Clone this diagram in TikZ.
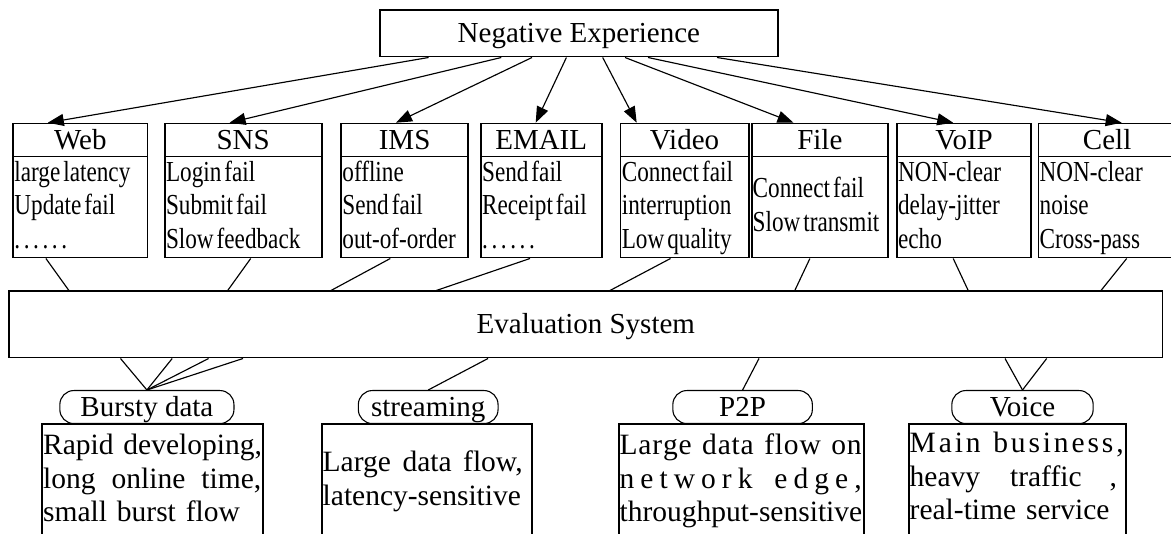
\documentclass[tikz,border=0pt]{standalone}
\usepackage{fontspec}
\setmainfont{Liberation Serif}
\newfontfamily\narrowserif[FakeStretch=0.8]{Liberation Serif}
\usetikzlibrary{arrows.meta}

\newcommand\mainsize{\fontsize{29pt}{33.5pt}\selectfont}
\newcommand\descsize{\fontsize{29.5pt}{33.5pt}\selectfont}
% stretchable gap for lines spread to the full box width
\newcommand\gap{\hspace{0pt plus 1fil}}
% tight word space for the condensed symptom lists
\newcommand\tsp{\hspace{3pt}}
% six spaced dots
\newcommand\dotrow{.\hspace{3.6pt}.\hspace{3.6pt}.\hspace{3.6pt}.\hspace{3.6pt}.\hspace{3.6pt}.}

% \boxat[style]{name}{x1}{y1}{x2}{y2}{text}: framed node spanning two corners
\newcommand\boxat[7][]{%
  \pgfmathsetmacro\boxw{#5-#3}%
  \pgfmathsetmacro\boxh{#6-#4}%
  \node[frame,#1,minimum width=\boxw pt,minimum height=\boxh pt] (#2) at (#3,#4) {#7};}

\begin{document}
\begin{tikzpicture}[x=1pt,y=-1pt,
  frame/.style={draw, line width=1.8pt, inner sep=0pt, anchor=north west,
    font=\mainsize, text height=20pt, text depth=2pt},
  tag/.style={line width=1.1pt, rounded corners=14pt},
  body/.style={anchor=base west, inner sep=0pt, align=left, text width=200pt,
    font=\narrowserif\mainsize},
  desc/.style={anchor=base west, inner sep=0pt, align=left, text width=250pt,
    font=\descsize},
  wire/.style={line width=1.15pt},
  arr/.style={wire, -{Triangle[length=16pt,width=12pt]}}]

\useasboundingbox (0,0) rectangle (1171,534);
\fill[white] (0,0) rectangle (1171,534);
\clip (0,0) rectangle (1171,534);

% top level and evaluation bar
\boxat{neg}{378.8}{9.3}{777.2}{55.7}{Negative Experience}
\boxat{eval}{8.4}{290.5}{1161.5}{356.7}{Evaluation System}

% service categories: header row and symptom list
\boxat{web-h}{12.2}{122.7}{146.6}{155.7}{Web}
\boxat{web-b}{12.2}{155.7}{146.6}{256.7}{}
\node[body] (web-t) at (14.2,181.5) {large\tsp latency\\Update\tsp fail\\\dotrow};

\boxat{sns-h}{163.8}{122.7}{320.7}{155.7}{SNS}
\boxat{sns-b}{163.8}{155.7}{320.7}{256.7}{}
\node[body] (sns-t) at (165.8,181.5) {Login\tsp fail\\Submit\tsp fail\\Slow\tsp feedback};

\boxat{ims-h}{340.2}{122.7}{467.2}{155.7}{IMS}
\boxat{ims-b}{340.2}{155.7}{467.2}{256.7}{}
\node[body] (ims-t) at (342.2,181.5) {offline\\Send\tsp fail\\out-of-order};

\boxat{email-h}{479.9}{122.7}{600.7}{155.7}{EMAIL}
\boxat{email-b}{479.9}{155.7}{600.7}{256.7}{}
\node[body] (email-t) at (481.9,181.5) {Send\tsp fail\\Receipt\tsp fail\\\dotrow};

\boxat{video-h}{619.6}{122.7}{747.7}{155.7}{Video}
\boxat{video-b}{619.6}{155.7}{747.7}{256.7}{}
\node[body] (video-t) at (621.6,181.5) {Connect\tsp fail\\interruption\\Low\tsp quality};

\boxat{file-h}{750.7}{122.7}{887.2}{155.7}{File}
\boxat{file-b}{750.7}{155.7}{887.2}{256.7}{}
\node[body] (file-t) at (752.5,198) {Connect\tsp fail\\Slow\tsp transmit};

\boxat{voip-h}{895.9}{122.7}{1030.4}{155.7}{VoIP}
\boxat{voip-b}{895.9}{155.7}{1030.4}{256.7}{}
\node[body] (voip-t) at (897.9,181.5) {NON-clear\\delay-jitter\\echo};

\boxat{cell-h}{1037.5}{122.7}{1175}{155.7}{Cell}
\boxat{cell-b}{1037.5}{155.7}{1175}{256.7}{}
\node[body] (cell-t) at (1039.5,181.5) {NON-clear\\noise\\Cross-pass};

% arrows from the top box to each category
\draw[arr] (428.6,0 |- neg.south) -- (47.8,0 |- web-h.north);
\draw[arr] (501.3,0 |- neg.south) -- (229.6,0 |- sns-h.north);
\draw[arr] (532,0 |- neg.south) -- (396,0 |- ims-h.north);
\draw[arr] (566.4,0 |- neg.south) -- (535.7,0 |- email-h.north);
\draw[arr] (602.7,0 |- neg.south) -- (636.7,0 |- video-h.north);
\draw[arr] (625,0 |- neg.south) -- (793.5,0 |- file-h.north);
\draw[arr] (648,0 |- neg.south) -- (953.2,0 |- voip-h.north);
\draw[arr] (717,0 |- neg.south) -- (1121.7,0 |- cell-h.north);

% categories feed the evaluation bar
\draw[wire] (45.9,0 |- web-b.south) -- (68.9,0 |- eval.north);
\draw[wire] (250.7,0 |- sns-b.south) -- (227.7,0 |- eval.north);
\draw[wire] (390.3,0 |- ims-b.south) -- (331,0 |- eval.north);
\draw[wire] (530,0 |- email-b.south) -- (436.3,0 |- eval.north);
\draw[wire] (670.5,0 |- video-b.south) -- (610,0 |- eval.north);
\draw[wire] (809.9,0 |- file-b.south) -- (794.8,0 |- eval.north);
\draw[wire] (953.2,0 |- voip-b.south) -- (968.2,0 |- eval.north);
\draw[wire] (1126.7,0 |- cell-b.south) -- (1101,0 |- eval.north);

% traffic types
\boxat{bursty-d}{41.3}{423}{262}{570}{}
\boxat[tag]{bursty}{59.3}{390}{233.4}{423}{Bursty data}
\node[desc] (bursty-t) at (43,455) {\makebox[218pt][s]{Rapid \gap developing,}\\
  \makebox[218pt][s]{long \gap online \gap time,}\\small burst flow};

\boxat{stream-d}{320.7}{423}{530.8}{570}{}
\boxat[tag]{stream}{357.8}{390}{497.5}{423}{streaming}
\node[desc] (stream-t) at (322.5,472) {\makebox[200pt][s]{Large \gap data \gap flow,}\\
  latency-sensitive};

\boxat{p2p-d}{617.7}{423}{862.7}{570}{}
\boxat[tag]{p2p}{672.3}{390}{811.8}{423}{P2P}
\node[desc] (p2p-t) at (619.5,455) {\makebox[242pt][s]{L\gap a\gap r\gap g\gap e \gap d\gap a\gap t\gap a \gap f\gap l\gap o\gap w \gap o\gap n}\\
  \makebox[242pt][s]{n\gap e\gap t\gap w\gap o\gap r\gap k \gap\gap e\gap d\gap g\gap e\gap ,}\\
  throughput-sensitive};

\boxat{voice-d}{907.9}{423}{1124.7}{570}{}
\boxat[tag]{voice}{951.3}{390}{1092.6}{423}{Voice}
\node[desc] (voice-t) at (909.5,453) {\makebox[214pt][s]{M\gap a\gap i\gap n \gap b\gap u\gap s\gap i\gap n\gap e\gap s\gap s\gap ,}\\
  \makebox[214pt][l]{heavy\hspace{30pt}traffic\hspace{28pt},}\\
  real-time service};

% evaluation bar to traffic types
\draw[wire] (120.5,0 |- eval.south) -- (bursty.north);
\draw[wire] (172.2,0 |- eval.south) -- (bursty.north);
\draw[wire] (208.6,0 |- eval.south) -- (bursty.north);
\draw[wire] (243,0 |- eval.south) -- (bursty.north);
\draw[wire] (488,0 |- eval.south) -- (stream.north);
\draw[wire] (759,0 |- eval.south) -- (p2p.north);
\draw[wire] (1005,0 |- eval.south) -- (voice.north);
\draw[wire] (1046.7,0 |- eval.south) -- (voice.north);
\end{tikzpicture}
\end{document}
